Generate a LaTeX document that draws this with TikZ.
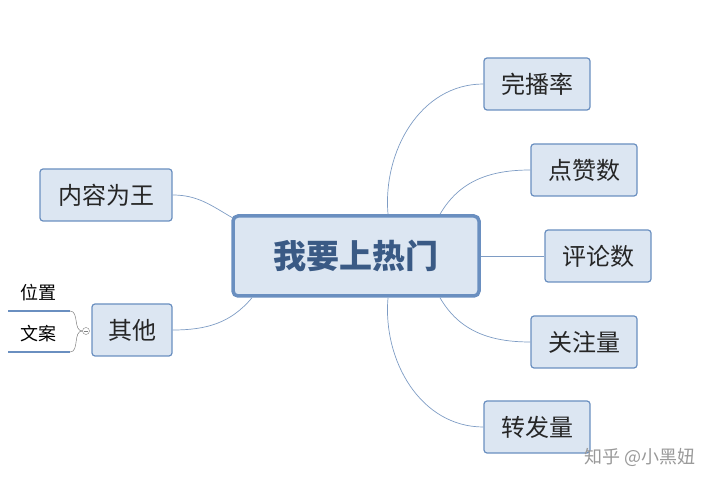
\documentclass[tikz,border=0pt]{standalone}
\usepackage{fontspec}
\setmainfont{Noto Sans CJK SC}
\usetikzlibrary{positioning}
\definecolor{boxfill}{HTML}{DCE6F2}
\definecolor{boxline}{HTML}{6A8FC0}
\definecolor{linkcol}{HTML}{7E9CC4}
\definecolor{titlecol}{HTML}{3A5A85}
\begin{document}
\begin{tikzpicture}[x=1pt,y=-1pt,
    topic/.style={draw=boxline,fill=boxfill,rounded corners=3pt,line width=1.2pt,
      font=\fontsize{24}{24}\selectfont,text=black!85,minimum height=52pt,minimum width=106pt},
    root/.style={draw=boxline,fill=boxfill,rounded corners=5pt,line width=3.5pt,
      font=\fontsize{33}{33}\selectfont\bfseries,text=titlecol,minimum width=246pt,minimum height=80pt},
    link/.style={draw=linkcol,line width=0.7pt}]
    \useasboundingbox (0,0) rectangle (710,486);
    \node [root] (hot) at (356,256) {我要上热门};
    \node [topic] (wanbo) at (537,84) {完播率};
    \node [topic] (dianzan) at (584,170) {点赞数};
    \node [topic] (pinglun) at (598,256) {评论数};
    \node [topic] (guanzhu) at (584,342) {关注量};
    \node [topic] (zhuanfa) at (537,427) {转发量};
    \node [topic,minimum width=132pt] (neirong) at (106,195) {内容为王};
    \node [topic,minimum width=80pt] (qita) at (132,330) {其他};
    \draw [link] ([xshift=32pt]hot.north) to[out=95,in=180] (wanbo.west);
    \draw [link] ([xshift=84pt]hot.north) to[out=60,in=180] (dianzan.west);
    \draw [link] (hot.east) -- (pinglun.west);
    \draw [link] ([xshift=84pt]hot.south) to[out=-60,in=180] (guanzhu.west);
    \draw [link] ([xshift=32pt]hot.south) to[out=-95,in=180] (zhuanfa.west);
    \draw [link] (neirong.east) to[out=0,in=150] ([xshift=2pt,yshift=-4pt]hot.north west);
    \draw [link] (qita.east) to[out=0,in=-130] ([xshift=-104pt]hot.south);
    % sub topics of qita
    \node [font=\fontsize{18}{18}\selectfont] (weizhi) at (38,293) {位置};
    \node [font=\fontsize{18}{18}\selectfont] (wenan) at (38,334) {文案};
    \coordinate (wzend) at (70,311);
    \coordinate (waend) at (70,352);
    \draw [boxline,line width=2.5pt] (8,311) -- (wzend);
    \draw [boxline,line width=2.5pt] (8,352) -- (waend);
    \node [circle,draw=gray,inner sep=0pt,minimum size=7pt,fill=white] (fold) at (86,331) {};
    \draw [gray,line width=0.5pt] ([xshift=-2pt]fold.center) -- ([xshift=2pt]fold.center);
    \draw [gray,line width=0.5pt] (wzend) to[out=0,in=180] (fold.west);
    \draw [gray,line width=0.5pt] (waend) to[out=0,in=180] (fold.west);
    \node [text=gray!80,font=\fontsize{18}{18}\selectfont] (mark) at (640,457) {知乎 @小黑妞};
\end{tikzpicture}
\end{document}
